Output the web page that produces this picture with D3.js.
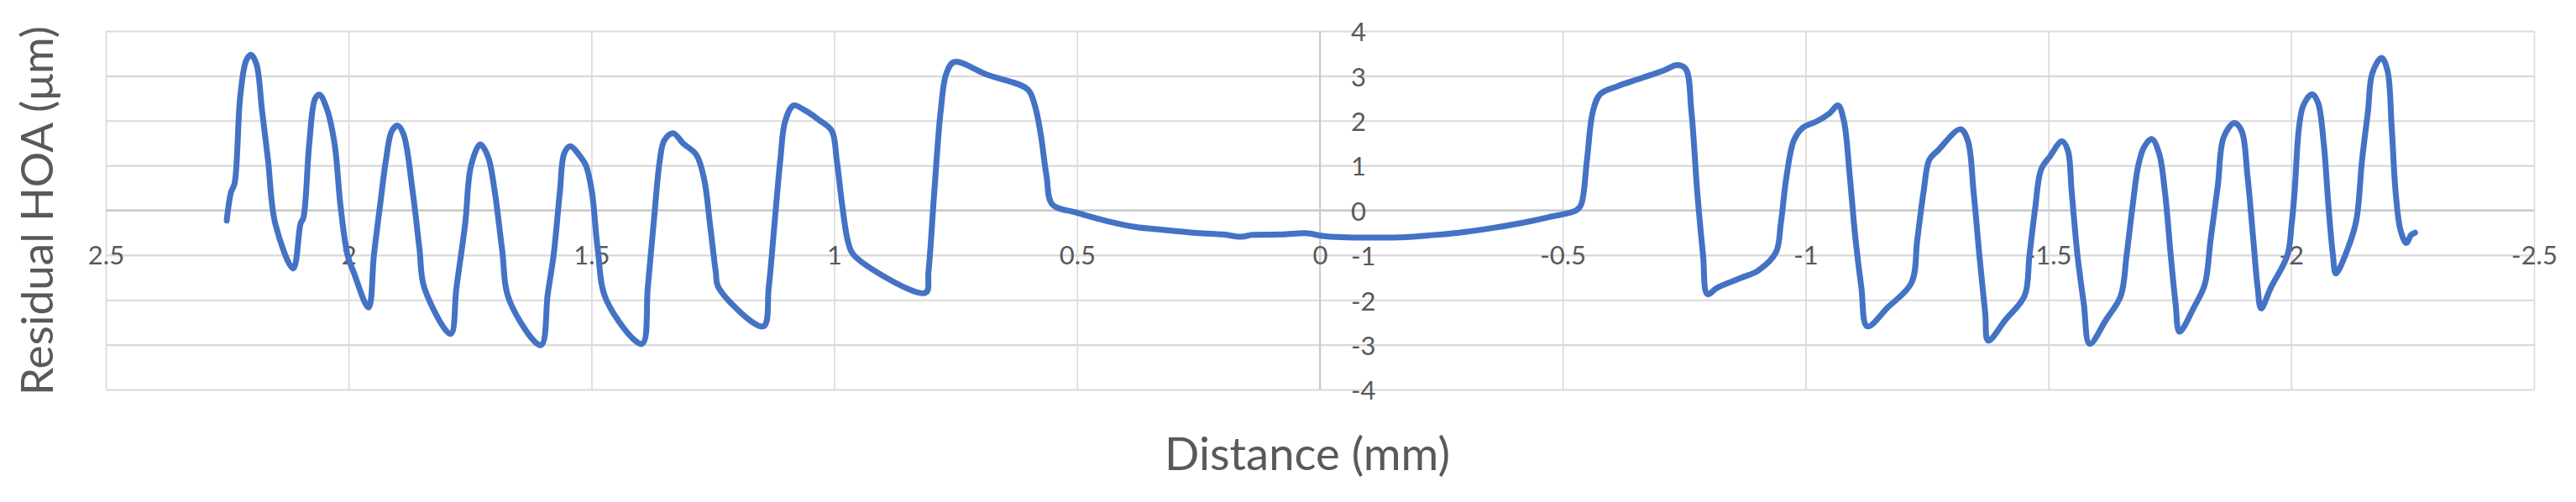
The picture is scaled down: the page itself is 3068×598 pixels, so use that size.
<!DOCTYPE html>
<html>
<head>
<meta charset="utf-8">
<script src="https://cdn.jsdelivr.net/npm/d3@7"></script>
<style>
  html, body { margin: 0; padding: 0; background: #ffffff; }
  svg { display: block; }
</style>
</head>
<body>
<svg id="chart" width="3068" height="598"></svg>
<script>
// ---- Data ----
const distance = [
  2.251, 2.242, 2.235, 2.223, 2.211, 2.201, 2.190, 2.178, 2.166, 2.151,
  2.114, 2.099, 2.093, 2.081, 2.069, 2.060, 2.045, 2.029, 2.017, 2.002,
  1.990, 1.959, 1.948, 1.935, 1.923, 1.911, 1.899, 1.887, 1.868, 1.854,
  1.844, 1.790, 1.778, 1.760, 1.748, 1.729, 1.713, 1.699, 1.684, 1.669,
  1.604, 1.590, 1.578, 1.565, 1.556, 1.544, 1.523, 1.511, 1.499, 1.487,
  1.469, 1.396, 1.384, 1.372, 1.359, 1.350, 1.332, 1.311, 1.284, 1.268,
  1.256, 1.244, 1.238, 1.146, 1.135, 1.123, 1.111, 1.101, 1.084, 1.062,
  1.032, 1.005, 0.995, 0.983, 0.971, 0.959, 0.812, 0.806, 0.794, 0.781,
  0.769, 0.753, 0.684, 0.602, 0.587, 0.575, 0.563, 0.551, 0.502, 0.442,
  0.381, 0.320, 0.260, 0.199, 0.163, 0.139, 0.078, 0.029, -0.005, -0.043,
  -0.104, -0.177, -0.225, -0.286, -0.347, -0.407, -0.468, -0.528, -0.538, -0.550,
  -0.562, -0.577, -0.613, -0.662, -0.710, -0.735, -0.753, -0.765, -0.777, -0.789,
  -0.798, -0.818, -0.867, -0.903, -0.939, -0.949, -0.961, -0.976, -0.994, -1.024,
  -1.049, -1.067, -1.079, -1.091, -1.103, -1.115, -1.127, -1.170, -1.218, -1.230,
  -1.243, -1.255, -1.273, -1.319, -1.334, -1.346, -1.358, -1.370, -1.376, -1.412,
  -1.451, -1.461, -1.473, -1.485, -1.503, -1.528, -1.540, -1.548, -1.560, -1.573,
  -1.585, -1.619, -1.649, -1.661, -1.673, -1.685, -1.697, -1.713, -1.728, -1.740,
  -1.752, -1.762, -1.770, -1.800, -1.822, -1.834, -1.849, -1.861, -1.883, -1.898,
  -1.910, -1.922, -1.931, -1.938, -1.958, -1.992, -2.001, -2.007, -2.016, -2.025,
  -2.043, -2.055, -2.067, -2.077, -2.086, -2.092, -2.116, -2.134, -2.146, -2.158,
  -2.167, -2.186, -2.198, -2.207, -2.215, -2.225, -2.237, -2.247, -2.255
];
const residualHOA = [
  -0.23, 0.41, 0.59, 2.56, 3.34, 3.47, 3.27, 2.20, 1.13, -0.30,
  -1.30, -0.30, -0.16, 1.49, 2.49, 2.58, 2.27, 1.49, 0.13, -1.01,
  -1.37, -2.17, -1.01, 0.13, 1.13, 1.77, 1.89, 1.70, 0.41, -0.87,
  -1.73, -2.76, -1.73, -0.30, 0.99, 1.47, 1.20, 0.41, -0.87, -2.01,
  -3.01, -1.87, -1.01, 0.41, 1.27, 1.43, 1.20, 0.99, 0.41, -0.87,
  -2.01, -2.98, -1.73, -0.30, 1.13, 1.56, 1.72, 1.49, 1.24, 0.70,
  -0.30, -1.37, -1.73, -2.59, -1.73, -0.30, 1.13, 1.99, 2.34, 2.24,
  2.02, 1.77, 1.13, 0.06, -0.73, -1.01, -1.84, -1.37, 0.41, 2.20,
  3.06, 3.31, 3.02, 2.70, 2.34, 1.70, 0.77, 0.13, -0.05, -0.23,
  -0.37, -0.44, -0.50, -0.54, -0.59, -0.55, -0.54, -0.51, -0.57, -0.60,
  -0.61, -0.60, -0.56, -0.50, -0.41, -0.30, -0.16, 0.00, 0.13, 1.13,
  2.20, 2.59, 2.77, 2.95, 3.13, 3.24, 3.16, 2.20, 0.41, -1.01,
  -1.87, -1.73, -1.51, -1.34, -0.94, -0.30, 0.77, 1.56, 1.84, 1.99,
  2.16, 2.34, 1.99, 0.77, -0.66, -1.73, -2.59, -2.16, -1.62, -0.66,
  0.41, 1.13, 1.34, 1.81, 1.56, 0.41, -1.01, -2.30, -2.91, -2.44,
  -1.91, -1.01, 0.06, 0.91, 1.20, 1.54, 1.34, 0.41, -1.01, -2.09,
  -2.98, -2.44, -1.91, -1.01, 0.06, 0.99, 1.41, 1.59, 1.27, 0.41,
  -1.01, -2.09, -2.71, -2.16, -1.66, -0.66, 0.56, 1.63, 1.95, 1.77,
  0.77, -0.66, -1.73, -2.19, -1.73, -1.01, -0.30, 0.41, 1.84, 2.34,
  2.59, 2.41, 1.49, 0.06, -1.01, -1.41, -0.87, -0.23, 1.13, 2.20,
  3.06, 3.40, 3.13, 1.84, 0.41, -0.44, -0.73, -0.55, -0.50
];
const xTicks = [2.5, 2, 1.5, 1, 0.5, 0, -0.5, -1, -1.5, -2, -2.5];
const yTicks = [-4, -3, -2, -1, 0, 1, 2, 3, 4];
const xTitle = "Distance (mm)";
const yTitle = "Residual HOA (μm)";

// ---- Layout ----
const W = 3068, H = 598;
const plot = { left: 126, right: 3018, top: 37, bottom: 464 };
const FONT = "Lato, 'Open Sans', 'DejaVu Sans', sans-serif";
const textColor = "#595959";
const gridColor = "#d9d9d9";
const axisColor = "#c4c4c4";
const lineColor = "#4472C4";

const svg = d3.select("#chart");
svg.append("rect").attr("width", W).attr("height", H).attr("fill", "#fff");

const x = d3.scaleLinear().domain([2.5, -2.5]).range([plot.left, plot.right]);
const y = d3.scaleLinear().domain([-4, 4]).range([plot.bottom, plot.top]);

// Horizontal gridlines
const hGrid = d3.axisLeft(y).tickValues(yTicks).tickSize(-(plot.right - plot.left)).tickFormat("");
svg.append("g")
  .attr("transform", `translate(${plot.left},0)`)
  .call(hGrid)
  .call(g => g.select(".domain").remove())
  .call(g => g.selectAll("line").attr("stroke", gridColor).attr("stroke-width", 2.2));

// Vertical gridlines
const vGrid = d3.axisBottom(x).tickValues(xTicks).tickSize(-(plot.bottom - plot.top)).tickFormat("");
svg.append("g")
  .attr("transform", `translate(0,${plot.bottom})`)
  .call(vGrid)
  .call(g => g.select(".domain").remove())
  .call(g => g.selectAll("line").attr("stroke", gridColor).attr("stroke-width", 1.6));

// Axis lines crossing at zero
svg.append("line")
  .attr("x1", plot.left).attr("x2", plot.right)
  .attr("y1", y(0)).attr("y2", y(0))
  .attr("stroke", axisColor).attr("stroke-width", 2.2);
svg.append("line")
  .attr("x1", x(0)).attr("x2", x(0))
  .attr("y1", plot.top).attr("y2", plot.bottom)
  .attr("stroke", axisColor).attr("stroke-width", 1.6);

// X tick labels (below the zero axis line)
const xAxis = d3.axisBottom(x).tickValues(xTicks).tickSize(0).tickPadding(0)
  .tickFormat(d => String(d));
svg.append("g")
  .attr("transform", `translate(0,${y(0)})`)
  .call(xAxis)
  .call(g => g.select(".domain").remove())
  .call(g => g.selectAll("text")
    .attr("y", 53).attr("dy", "0.36em")
    .attr("fill", textColor)
    .style("font-family", FONT).style("font-size", "31px"));

// Y tick labels (right of the zero vertical axis, because x is reversed)
const yAxis = d3.axisRight(y).tickValues(yTicks).tickSize(0).tickPadding(0)
  .tickFormat(d => String(d));
svg.append("g")
  .attr("transform", `translate(${x(0)},0)`)
  .call(yAxis)
  .call(g => g.select(".domain").remove())
  .call(g => g.selectAll("text")
    .attr("x", 37).attr("dy", "0.38em")
    .attr("text-anchor", "start")
    .attr("fill", textColor)
    .style("font-family", FONT).style("font-size", "31px"));

// Data line
const pts = distance.map((d, i) => [d, residualHOA[i]]);
const line = d3.line()
  .x(d => x(d[0]))
  .y(d => y(d[1]))
  .curve(d3.curveCatmullRom.alpha(0.5));
svg.append("path")
  .datum(pts)
  .attr("d", line)
  .attr("fill", "none")
  .attr("stroke", lineColor)
  .attr("stroke-width", 7)
  .attr("stroke-linejoin", "round")
  .attr("stroke-linecap", "round");

// Titles
function fitWidth(sel, target) {
  const w = sel.node().getComputedTextLength();
  const fs = parseFloat(sel.style("font-size"));
  if (w > 0) sel.style("font-size", (fs * target / w) + "px");
}
const xt = svg.append("text")
  .attr("x", 1557).attr("y", 560)
  .attr("text-anchor", "middle")
  .attr("fill", textColor)
  .style("font-family", FONT).style("font-size", "50px")
  .text(xTitle);
fitWidth(xt, 340);

const yt = svg.append("text")
  .attr("transform", "translate(63,251) rotate(-90)")
  .attr("text-anchor", "middle")
  .attr("fill", textColor)
  .style("font-family", FONT).style("font-size", "50px")
  .text(yTitle);
fitWidth(yt, 440);
</script>
</body>
</html>
